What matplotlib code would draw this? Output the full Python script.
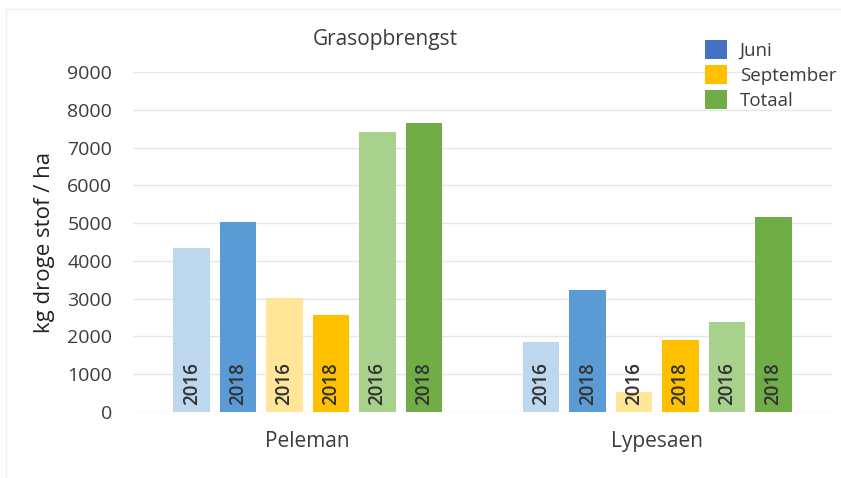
import matplotlib
matplotlib.use("Agg")
import matplotlib.pyplot as plt
from matplotlib.patches import Patch
from matplotlib.lines import Line2D

plt.rcParams['font.family'] = ['Open Sans', 'DejaVu Sans']

categories = ["Peleman", "Lypesaen"]
series_labels = ["Juni 2016", "Juni 2018", "September 2016", "September 2018", "Totaal 2016", "Totaal 2018"]
year_labels = ["2016", "2018", "2016", "2018", "2016", "2018"]
values = {
    "Juni 2016": [4330, 1840],
    "Juni 2018": [5040, 3240],
    "September 2016": [3030, 520],
    "September 2018": [2560, 1910],
    "Totaal 2016": [7400, 2380],
    "Totaal 2018": [7650, 5150],
}
bar_colors = ["#BDD7EE", "#5B9BD5", "#FFE699", "#FFC000", "#A9D18E", "#70AD47"]
legend_labels = ["Juni", "September", "Totaal"]
legend_colors = ["#4472C4", "#FFC000", "#70AD47"]
yticks = list(range(0, 9001, 1000))

W, H = 841, 478
fig = plt.figure(figsize=(W / 100, H / 100), dpi=100)
ax = fig.add_axes([133 / W, (H - 412) / H, (832 - 133) / W, (412 - 72) / H])

text_color = "#3c3c3c"
pitch = 0.1328
width = 0.1044
for j, (name, col) in enumerate(zip(series_labels, bar_colors)):
    xs = [i + (j - 2.5) * pitch for i in range(len(categories))]
    ax.bar(xs, values[name], width=width, color=col, zorder=2)
    for x in xs:
        ax.annotate(year_labels[j], xy=(x, 0), xytext=(0, 5), textcoords="offset points",
                    rotation=90, ha="center", va="bottom", fontsize=13.5,
                    fontweight="semibold", color="#333333", zorder=3)

ax.set_xlim(-0.5, 1.5)
ax.set_ylim(0, 9000)
ax.set_yticks(yticks)
ax.set_yticklabels([str(v) for v in yticks])
ax.set_xticks(range(len(categories)))
ax.set_xticklabels(categories, fontsize=15)
ax.tick_params(axis="both", length=0, colors=text_color)
ax.tick_params(axis="y", pad=15, labelsize=14)
ax.tick_params(axis="x", pad=14)
ax.grid(axis="y", color="#e6e6e6", linewidth=1, zorder=0)
ax.set_axisbelow(True)
for s in ax.spines.values():
    s.set_visible(False)

ax.text(-0.126, 0.5, "kg droge stof / ha", transform=ax.transAxes, rotation=90,
        ha="center", va="center", fontsize=16, color="#222222")

fig.text(385 / W, 1 - 40 / H, "Grasopbrengst", ha="center", va="center",
         fontsize=15, color=text_color)

handles = [Patch(facecolor=c, edgecolor="none") for c in legend_colors]
fs = 13.5
px_per_em = fs * 100 / 72
fig.legend(handles, legend_labels, loc="upper left",
           bbox_to_anchor=(705 / W, 1 - 40 / H), bbox_transform=fig.transFigure,
           frameon=False, fontsize=fs, borderpad=0, borderaxespad=0,
           handlelength=22 / px_per_em, handleheight=22 / px_per_em,
           labelspacing=0.28, handletextpad=13 / px_per_em, labelcolor=text_color)

fig.add_artist(Line2D([6 / W, 6 / W], [0, 1 - 9 / H], transform=fig.transFigure,
                      color="#f0f0f0", linewidth=1))
fig.add_artist(Line2D([6 / W, 1], [1 - 9 / H, 1 - 9 / H], transform=fig.transFigure,
                      color="#f0f0f0", linewidth=1))

fig.savefig("out.png", dpi=100)
